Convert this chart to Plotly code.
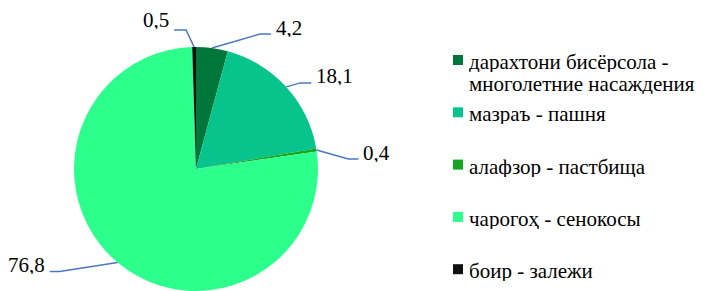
import math
import plotly.graph_objects as go

# ---- data ----
categories = [
    "дарахтони бисёрсола - многолетние насаждения",
    "мазраъ - пашня",
    "алафзор - пастбища",
    "чарогоҳ - сенокосы",
    "боир - залежи",
]
legend_lines = [
    ["дарахтони бисёрсола -", "многолетние насаждения"],
    ["мазраъ - пашня"],
    ["алафзор - пастбища"],
    ["чарогоҳ - сенокосы"],
    ["боир - залежи"],
]
values = [4.2, 18.1, 0.4, 76.8, 0.5]
value_labels = ["4,2", "18,1", "0,4", "76,8", "0,5"]

# ---- style ----
colors = ["#00773A", "#06C48C", "#14A61E", "#2CFF8C", "#111111"]
OFF = 8                              # default page body margin
W, H = 712 - OFF, 291 - OFF
CX, CY, R = 196, 169, 122            # pie centre / radius in page pixels
FONT = "Liberation Serif, DejaVu Serif, serif"
LINE_COLOR = "#4A78C2"

# leader-line styling per slice: elbow offset (dx, dy), horizontal run, label vertical offset
elbow_dx = [48, 14, 32, -58, -8]
elbow_dy = [-14, -4, 9, 9, -17]
run_len = [11, 11, 10, -10, -12]
label_dy = [-7, -7, -6, -7, -11]

def px(x):
    return (x - OFF) / W

def py(y):
    return 1 - (y - OFF) / H

fig = go.Figure()
fig.add_trace(go.Pie(
    labels=categories,
    values=values,
    sort=False,
    direction="clockwise",
    rotation=0,
    marker=dict(colors=colors, line=dict(width=0)),
    textinfo="none",
    hoverinfo="label+value",
    showlegend=False,
    domain=dict(x=[px(CX - R), px(CX + R)], y=[max(0, py(CY + R)), py(CY - R)]),
))

shapes = []
annotations = []
total = sum(values)
cum = 0.0
for i, v in enumerate(values):
    mid = (cum + v / 2) / total * 2 * math.pi
    cum += v
    ex = CX + R * math.sin(mid)
    ey = CY - R * math.cos(mid)
    bx = ex + elbow_dx[i]
    by = ey + elbow_dy[i]
    hx = bx + run_len[i]
    path = f"M {px(ex)},{py(ey)} L {px(bx)},{py(by)} L {px(hx)},{py(by)}"
    shapes.append(dict(type="path", path=path, xref="paper", yref="paper",
                       line=dict(color=LINE_COLOR, width=1.5)))
    right = run_len[i] > 0
    annotations.append(dict(
        x=px(hx + (4 if right else -4)), y=py(by + label_dy[i]),
        xref="paper", yref="paper", text=value_labels[i], showarrow=False,
        xanchor="left" if right else "right", yanchor="middle",
        height=19, borderpad=0,
        font=dict(family=FONT, size=21, color="#000000"),
    ))

# legend (drawn manually to match spacing)
LEG_X, LEG_Y0, LEG_STEP, LINE_STEP = 453, 60, 52.3, 21.7
for i, lines in enumerate(legend_lines):
    yc = LEG_Y0 + i * LEG_STEP
    shapes.append(dict(type="rect", xref="paper", yref="paper",
                       x0=px(LEG_X), x1=px(LEG_X + 10), y0=py(yc - 5), y1=py(yc + 5),
                       fillcolor=colors[i], line=dict(width=0)))
    for j, t in enumerate(lines):
        annotations.append(dict(
            x=px(LEG_X + 15), y=py(yc + 1.5 + j * LINE_STEP), xref="paper", yref="paper",
            text=t, showarrow=False, xanchor="left", yanchor="middle",
            height=21, borderpad=0,
            font=dict(family=FONT, size=21, color="#000000"),
        ))

fig.update_layout(
    width=W, height=H,
    margin=dict(l=0, r=0, t=0, b=0),
    paper_bgcolor="#FFFFFF",
    plot_bgcolor="#FFFFFF",
    shapes=shapes,
    annotations=annotations,
    showlegend=False,
)

fig.write_html("out.html")
